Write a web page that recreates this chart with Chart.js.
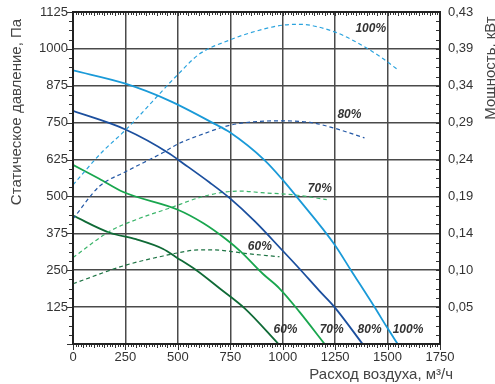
<!DOCTYPE html>
<html>
<head>
<meta charset="utf-8">
<script src="https://cdn.jsdelivr.net/npm/chart.js@4.4.1/dist/chart.umd.min.js"></script>
<style>
  html, body { margin: 0; padding: 0; background: #fff; }
  #wrap { width: 495px; height: 384px; }
</style>
</head>
<body>
<div id="wrap"><canvas id="chart"></canvas></div>
<script>
const speeds = ['100%', '80%', '70%', '60%'];
const colors = ['#1a9ad8', '#1b4f9e', '#19a64e', '#0f6a36'];
const dashColors = ['#2aa3de', '#2358a6', '#3bb56a', '#1d7343'];

// static pressure, Pa
const flowP100 = [0, 250, 461, 675, 746, 913, 1000, 1071, 1246, 1326, 1437, 1495, 1548];
const presP100 = [927, 882, 824, 746, 718, 623, 556, 495, 338, 249, 126, 59, 0];
const flowP80 = [0, 250, 461, 508, 650, 746, 865, 1000, 1080, 1175, 1246, 1381];
const presP80 = [790, 727, 645, 621, 548, 495, 417, 316, 255, 180, 126, 0];
const flowP70 = [0, 125, 240, 500, 620, 730, 800, 905, 985, 1080, 1200];
const presP70 = [607, 560, 515, 455, 410, 355, 313, 238, 188, 109, 0];
const flowP60 = [0, 175, 300, 430, 490, 590, 700, 820, 980];
const presP60 = [435, 377, 355, 322, 295, 249, 188, 120, 0];

// power, kW
const flowN100 = [0, 140, 250, 500, 600, 750, 870, 1000, 1080, 1240, 1330, 1460, 1550];
const powN100 = [0.206, 0.249, 0.277, 0.349, 0.375, 0.394, 0.405, 0.413, 0.414, 0.405, 0.394, 0.373, 0.355];
const flowN80 = [0, 125, 250, 430, 500, 600, 760, 970, 1130, 1240, 1390];
const powN80 = [0.162, 0.204, 0.223, 0.248, 0.259, 0.270, 0.284, 0.289, 0.287, 0.280, 0.267];
const flowN70 = [0, 175, 300, 460, 620, 730, 800, 900, 1060, 1210];
const powN70 = [0.112, 0.146, 0.161, 0.176, 0.191, 0.197, 0.198, 0.196, 0.193, 0.187];
const flowN60 = [0, 250, 430, 500, 600, 670, 750, 800, 985];
const powN60 = [0.078, 0.102, 0.114, 0.118, 0.122, 0.122, 0.120, 0.118, 0.113];

const powerTickLabels = ['', '0,05', '0,10', '0,14', '0,19', '0,24', '0,29', '0,34', '0,39', '0,43'];
// where the speed labels of the power curves sit (flow, Pa)
const powerLabelAt = [[1420, 1068], [1318, 776], [1177, 525], [891, 329]];

const FONT = "Arial, 'Liberation Sans', sans-serif";

const pts = (xs, ys) => xs.map((v, i) => ({ x: v, y: ys[i] }));
const pressure = [pts(flowP100, presP100), pts(flowP80, presP80), pts(flowP70, presP70), pts(flowP60, presP60)];
const power = [pts(flowN100, powN100), pts(flowN80, powN80), pts(flowN70, powN70), pts(flowN60, powN60)];

const datasets = [];
speeds.forEach((s, i) => {
    datasets.push({
        label: 'P ' + s, data: pressure[i], yAxisID: 'y',
        borderColor: colors[i], borderWidth: 1.8, pointRadius: 0,
        cubicInterpolationMode: 'monotone'
    });
    datasets.push({
        label: 'N ' + s, data: power[i], yAxisID: 'y1',
        borderColor: dashColors[i], borderWidth: 1.2, borderDash: [4, 3], pointRadius: 0,
        cubicInterpolationMode: 'monotone'
    });
});

const frame = {
    id: 'frame',
    afterDraw(chart) {
        const { ctx, chartArea: a, scales: { x, y } } = chart;
        ctx.save();
        ctx.strokeStyle = '#333';
        ctx.lineWidth = 1;
        ctx.beginPath();
        for (let v = 0; v <= 1750; v += 12.5) {
            const px = Math.round(x.getPixelForValue(v)) + 0.5;
            const len = v % 250 === 0 ? 6 : (v % 50 === 0 ? 4 : 3);
            ctx.moveTo(px, a.bottom); ctx.lineTo(px, a.bottom + len);
            ctx.moveTo(px, a.top); ctx.lineTo(px, a.top + (v % 50 === 0 ? 4 : 3));
        }
        for (let v = 0; v <= 1125; v += 31.25) {
            const py = Math.round(y.getPixelForValue(v)) + 0.5;
            ctx.moveTo(a.left - (v % 125 === 0 ? 6 : 4), py); ctx.lineTo(a.left, py);
            ctx.moveTo(a.right - 4, py); ctx.lineTo(a.right, py);
        }
        ctx.stroke();

        ctx.strokeStyle = '#222';
        ctx.lineWidth = 2;
        ctx.strokeRect(a.left, a.top, a.right - a.left, a.bottom - a.top);

        // axis titles
        ctx.fillStyle = '#444';
        ctx.font = '15px ' + FONT;
        ctx.textBaseline = 'middle';
        ctx.textAlign = 'center';
        ctx.save();
        ctx.translate(17, 112);
        ctx.rotate(-Math.PI / 2);
        ctx.fillText('Статическое давление, Па', 0, 0);
        ctx.restore();
        ctx.save();
        ctx.translate(491, 68);
        ctx.rotate(-Math.PI / 2);
        ctx.fillText('Мощность, кВт', 0, 0);
        ctx.restore();
        ctx.textAlign = 'right';
        ctx.fillText('Расход воздуха, м³/ч', 453, 375);

        // speed labels
        ctx.fillStyle = '#333';
        ctx.font = 'italic bold 12px ' + FONT;
        ctx.textAlign = 'center';
        powerLabelAt.forEach((p, i) => {
            ctx.fillText(speeds[i], x.getPixelForValue(p[0]), y.getPixelForValue(p[1]));
        });
        ctx.textAlign = 'left';
        pressure.forEach((d, i) => {
            const last = d[d.length - 1];
            ctx.fillText(speeds[i], x.getPixelForValue(last.x) - 5, y.getPixelForValue(47));
        });
        ctx.restore();
    }
};

const gridOpts = { color: '#4a4a4a', lineWidth: 1.5, drawTicks: false };
const tickFont = { family: FONT, size: 13 };
const noVPad = s => { s.paddingTop = 0; s.paddingBottom = 0; };

new Chart(document.getElementById('chart'), {
    type: 'line',
    data: { datasets: datasets },
    options: {
        responsive: true,
        maintainAspectRatio: false,
        animation: false,
        layout: { padding: { top: 12, left: 0, right: 0, bottom: 0 } },
        plugins: { legend: { display: false }, tooltip: { enabled: false } },
        scales: {
            x: {
                type: 'linear', min: 0, max: 1750,
                ticks: { stepSize: 250, color: '#333', font: tickFont, padding: 6, maxRotation: 0,
                    callback: v => String(v) },
                grid: gridOpts, border: { display: false },
                afterFit: s => { s.height = 40; }
            },
            y: {
                min: 0, max: 1125,
                ticks: { stepSize: 125, color: '#333', font: tickFont, padding: 5,
                    callback: v => v === 0 ? '' : String(v) },
                grid: gridOpts, border: { display: false },
                afterFit: s => { s.width = 73; noVPad(s); }
            },
            y1: {
                position: 'right', min: 0, max: 0.43,
                ticks: { count: 10, color: '#333', font: tickFont, padding: 8,
                    callback: (v, i) => powerTickLabels[i] },
                grid: { display: false, drawTicks: false }, border: { display: false },
                afterFit: s => { s.width = 55; noVPad(s); }
            }
        }
    },
    plugins: [frame]
});
</script>
</body>
</html>
